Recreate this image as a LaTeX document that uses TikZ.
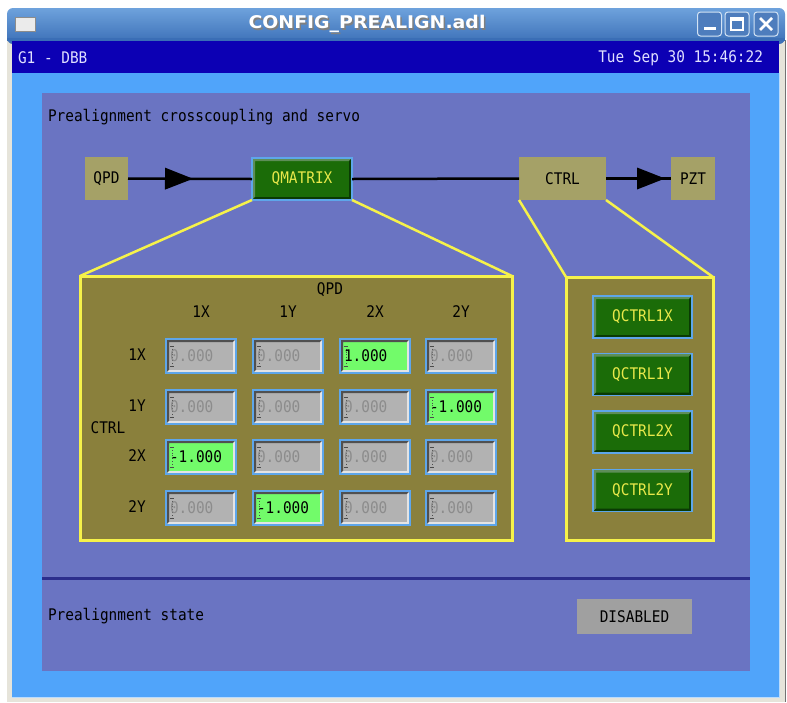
\documentclass[tikz,border=0pt]{standalone}
\usepackage{fontspec}
\usetikzlibrary{decorations.markings}
\newfontfamily\mono[FakeStretch=0.9]{DejaVu Sans Mono}
\newfontfamily\titlefont[FakeStretch=1.08]{DejaVu Sans}

\definecolor{framegrey}{HTML}{E6E4DA}
\definecolor{titletop}{HTML}{6EA2DC}
\definecolor{titlebot}{HTML}{3A6EB6}
\definecolor{bandblue}{HTML}{0C00B4}
\definecolor{skyblue}{HTML}{50A4FA}
\definecolor{panelpurple}{HTML}{6A74C2}
\definecolor{sepblue}{HTML}{2C2E8C}
\definecolor{boxkhaki}{HTML}{A5A167}
\definecolor{olive}{HTML}{8A803C}
\definecolor{yel}{HTML}{F6F24A}
\definecolor{btngreen}{HTML}{1B6C08}
\definecolor{btnlight}{HTML}{5E8E58}
\definecolor{btndark}{HTML}{0A3A04}
\definecolor{btntext}{HTML}{E8E84A}
\definecolor{edgeblue}{HTML}{5EA6EA}
\definecolor{cellgrey}{HTML}{B2B2B2}
\definecolor{celldark}{HTML}{505050}
\definecolor{celllight}{HTML}{E4E4E4}
\definecolor{cellgreen}{HTML}{72FB6A}
\definecolor{greytext}{HTML}{8C8C8C}
\definecolor{disgrey}{HTML}{A0A0A0}

\begin{document}
\begin{tikzpicture}[x=1pt,y=-1pt,
  every node/.style={inner sep=0pt, outer sep=0pt},
  txt/.style={font=\mono\fontsize{16}{16}\selectfont, text=black},
  lbl/.style={txt, anchor=west},
  khakibox/.style={fill=boxkhaki, txt},
  bevel/.style 2 args={path picture={
    \fill[#1] (path picture bounding box.south west) -- (path picture bounding box.north west)
      -- (path picture bounding box.north east) -- ([shift={(-3,3)}]path picture bounding box.north east)
      -- ([shift={(3,3)}]path picture bounding box.north west) -- ([shift={(3,-3)}]path picture bounding box.south west) -- cycle;
    \fill[#2] (path picture bounding box.south west) -- (path picture bounding box.south east)
      -- (path picture bounding box.north east) -- ([shift={(-3,3)}]path picture bounding box.north east)
      -- ([shift={(-3,-3)}]path picture bounding box.south east) -- ([shift={(3,-3)}]path picture bounding box.south west) -- cycle;
  }},
  button/.style={fill=btngreen, draw=edgeblue, line width=1.5pt, bevel={btnlight}{btndark},
    font=\mono\fontsize{16}{16}\selectfont, text=btntext, minimum height=42},
  cellbase/.style={draw=edgeblue, line width=1.5pt, minimum width=70, minimum height=34,
    text width=62, align=left, font=\mono\fontsize{16}{16}\selectfont,
    path picture={
    \fill[celldark] (path picture bounding box.south west) -- (path picture bounding box.north west)
      -- (path picture bounding box.north east) -- ([shift={(-3,3)}]path picture bounding box.north east)
      -- ([shift={(3,3)}]path picture bounding box.north west) -- ([shift={(3,-3)}]path picture bounding box.south west) -- cycle;
    \fill[celllight] (path picture bounding box.south west) -- (path picture bounding box.south east)
      -- (path picture bounding box.north east) -- ([shift={(-3,3)}]path picture bounding box.north east)
      -- ([shift={(-3,-3)}]path picture bounding box.south east) -- ([shift={(3,-3)}]path picture bounding box.south west) -- cycle;
    \draw[black!70, line width=0.8pt, dotted] ([shift={(6,7)}]path picture bounding box.north west) -- ([shift={(6,-7)}]path picture bounding box.south west);
    \draw[black!70, line width=0.6pt] ([shift={(4,7)}]path picture bounding box.north west) -- ++(4,0)
      ([shift={(4,-7)}]path picture bounding box.south west) -- ++(4,0);
  }},
  zerocell/.style={cellbase, fill=cellgrey, text=greytext},
  onecell/.style={cellbase, fill=cellgreen, text=black},
  yline/.style={draw=yel, line width=2.5pt},
  frameline/.style={draw=yel, line width=3pt, fill=olive},
  flow/.style={draw=black, line width=2.5pt},
  tri/.style={decoration={markings, mark=at position #1 with {\fill[black] (-28,-11) -- (0,0) -- (-28,11) -- cycle;}}, postaction={decorate}}
]
\useasboundingbox (0,0) rectangle (787,702);
\fill[white] (0,0) rectangle (787,702);

% window frame and title bar
\fill[framegrey] (7,40) rectangle (785,702);
\fill[black!55] (785,40) rectangle (786,702);
\shade[top color=titletop, bottom color=titlebot, rounded corners=6pt] (7,8) rectangle (785,44);
\fill[titlebot] (7,38) rectangle (785,41);
\node[draw=black!45, fill=black!8, line width=1pt, minimum width=20, minimum height=14] (icon) at (25,24) {};
\node[font=\titlefont\bfseries\fontsize{17.5}{17.5}\selectfont, text=black!50] at (368.5,25.5) {CONFIG\_PREALIGN.adl};
\node[font=\titlefont\bfseries\fontsize{17.5}{17.5}\selectfont, text=white] (title) at (367,24) {CONFIG\_PREALIGN.adl};
\tikzset{wbtn/.style={draw=white!70!titletop, fill=titlebot!90!white, line width=1pt, rounded corners=3pt, minimum width=24, minimum height=24}}
\node[wbtn] (bmin) at (709.5,24) {};
\node[wbtn] (bmax) at (737,24) {};
\node[wbtn] (bclose) at (766,24) {};
\fill[white] ([shift={(-6,3)}]bmin.center) rectangle ([shift={(6,6)}]bmin.center);
\draw[white, line width=1.3pt] ([shift={(-6,-6)}]bmax.center) rectangle ([shift={(6,6)}]bmax.center);
\fill[white] ([shift={(-6,-6)}]bmax.center) rectangle ([shift={(6,-3)}]bmax.center);
\draw[white, line width=2.6pt] ([shift={(-6,-6)}]bclose.center) -- ([shift={(6,6)}]bclose.center)
  ([shift={(6,-6)}]bclose.center) -- ([shift={(-6,6)}]bclose.center);

% header band
\fill[bandblue] (12,41) rectangle (779,73);
\node[txt, text=white!88!blue, anchor=west] (group) at (18,58) {G1 - DBB};
\node[txt, text=white!88!blue, anchor=east] (clock) at (763,58) {Tue Sep 30 15:46:22};

% screen background and main panel
\fill[skyblue] (12,73) rectangle (779,697);
\draw[white!60!skyblue, line width=1pt] (779,73) -- (779,697) -- (12,697);
\fill[panelpurple] (42,93) rectangle (750,671);
\draw[sepblue, line width=3pt] (42,578) -- (750,578);

\node[lbl] (heading) at (48,117) {Prealignment crosscoupling and servo};
\node[lbl] (statelbl) at (48,616) {Prealignment state};
\node[txt, fill=disgrey, minimum width=115, minimum height=35] (state) at (634.5,616.5) {DISABLED};

% signal chain
\node[khakibox, minimum width=43, minimum height=43] (qpd) at (106.5,178.5) {QPD};
\node[button, minimum width=100] (qmatrix) at (302,179) {QMATRIX};
\node[khakibox, minimum width=87, minimum height=43] (ctrl) at (562.5,178.5) {CTRL};
\node[khakibox, minimum width=44, minimum height=43] (pzt) at (693,178.5) {PZT};
\draw[flow, tri=65pt] (qpd.east) -- (qmatrix.west);
\draw[flow] (qmatrix.east) -- (ctrl.west);
\draw[flow, tri=59pt] (ctrl.east) -- (pzt.west);

% matrix and controller panels
\node[frameline, minimum width=432, minimum height=264] (mat) at (296,408) {};
\node[frameline, minimum width=147, minimum height=263] (ctl) at (639.5,408.5) {};
\draw[yline] (qmatrix.south west) -- (mat.north west);
\draw[yline] (qmatrix.south east) -- (mat.north east);
\draw[yline] (ctrl.south west) -- (ctl.north west);
\draw[yline] (ctrl.south east) -- (ctl.north east);

% matrix headers
\node[txt] (qpdhead) at (330,290) {QPD};
\node[txt] (c1) at (201,312) {1X};
\node[txt] (c2) at (288,312) {1Y};
\node[txt] (c3) at (375,312) {2X};
\node[txt] (c4) at (461,312) {2Y};
\node[txt] (r1) at (137,355) {1X};
\node[txt] (r2) at (137,406) {1Y};
\node[txt] (r3) at (137,456) {2X};
\node[txt] (r4) at (137,507) {2Y};
\node[txt] (ctrlhead) at (108,428) {CTRL};

% matrix cells
\node[zerocell] (m11) at (201,356) {0.000};
\node[zerocell] (m12) at (288,356) {0.000};
\node[onecell]  (m13) at (375,356) {1.000};
\node[zerocell] (m14) at (461,356) {0.000};
\node[zerocell] (m21) at (201,407) {0.000};
\node[zerocell] (m22) at (288,407) {0.000};
\node[zerocell] (m23) at (375,407) {0.000};
\node[onecell]  (m24) at (461,407) {-1.000};
\node[onecell]  (m31) at (201,457) {-1.000};
\node[zerocell] (m32) at (288,457) {0.000};
\node[zerocell] (m33) at (375,457) {0.000};
\node[zerocell] (m34) at (461,457) {0.000};
\node[zerocell] (m41) at (201,508) {0.000};
\node[onecell]  (m42) at (288,508) {-1.000};
\node[zerocell] (m43) at (375,508) {0.000};
\node[zerocell] (m44) at (461,508) {0.000};

% controller buttons
\node[button, minimum width=99] (q1x) at (642.5,317) {QCTRL1X};
\node[button, minimum width=99] (q1y) at (642.5,374.5) {QCTRL1Y};
\node[button, minimum width=99] (q2x) at (642.5,432) {QCTRL2X};
\node[button, minimum width=99] (q2y) at (642.5,490.5) {QCTRL2Y};
\end{tikzpicture}
\end{document}
